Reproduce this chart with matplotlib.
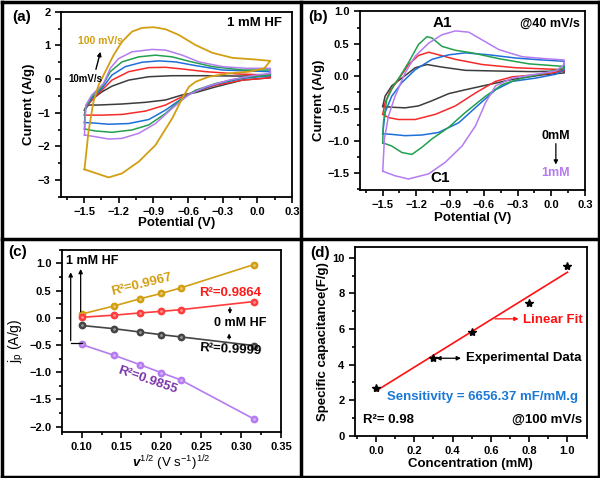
import numpy as np
import matplotlib
matplotlib.use('Agg')
import matplotlib.pyplot as plt
from matplotlib.lines import Line2D
from matplotlib.ticker import MultipleLocator

plt.rcParams['font.family'] = ['Liberation Sans', 'DejaVu Sans']
plt.rcParams['font.weight'] = 'bold'
plt.rcParams['axes.labelweight'] = 'bold'
plt.rcParams['axes.linewidth'] = 1.3
plt.rcParams['mathtext.fontset'] = 'custom'
plt.rcParams['mathtext.rm'] = 'Liberation Sans'
plt.rcParams['mathtext.it'] = 'Liberation Sans:italic'
plt.rcParams['mathtext.bf'] = 'Liberation Sans:bold'
plt.rcParams['mathtext.default'] = 'regular'

# ---------------- (a) CV at different scan rates, 1 mM HF ----------------
# anodic branch (-1.5 -> 0.1) and cathodic branch (0.1 -> -1.5), E in V, I in A/g
a_black_up_E = [-1.497, -1.477, -1.419, -1.346, -1.259, -1.114, -0.94, -0.738, -0.448, -0.158, 0.112]
a_black_up_I = [-0.92, -0.77, -0.57, -0.38, -0.21, -0.03, 0.07, 0.10, 0.10, 0.09, 0.10]
a_black_dn_E = [0.112, -0.129, -0.36, -0.535, -0.65, -0.795, -0.969, -1.172, -1.375, -1.462, -1.497]
a_black_dn_I = [0.04, -0.03, -0.23, -0.40, -0.47, -0.62, -0.69, -0.74, -0.77, -0.77, -0.92]

a_red_up_E = [-1.497, -1.49, -1.433, -1.346, -1.259, -1.114, -0.94, -0.795, -0.65, -0.448, -0.158, 0.112]
a_red_up_I = [-1.07, -0.87, -0.62, -0.33, -0.03, 0.22, 0.34, 0.35, 0.30, 0.22, 0.15, 0.12]
a_red_dn_E = [0.112, -0.129, -0.36, -0.535, -0.65, -0.795, -0.969, -1.172, -1.346, -1.497]
a_red_dn_I = [0.04, -0.03, -0.18, -0.36, -0.52, -0.77, -0.95, -1.05, -1.07, -1.07]

a_blue_up_E = [-1.497, -1.485, -1.433, -1.346, -1.259, -1.143, -0.998, -0.853, -0.709, -0.535, -0.303, 0.112]
a_blue_up_I = [-1.29, -0.82, -0.57, -0.28, 0.12, 0.37, 0.50, 0.54, 0.51, 0.40, 0.27, 0.22]
a_blue_dn_E = [0.112, -0.129, -0.36, -0.535, -0.65, -0.795, -0.94, -1.114, -1.288, -1.433, -1.497]
a_blue_dn_I = [0.10, 0.02, -0.15, -0.36, -0.57, -0.92, -1.20, -1.32, -1.34, -1.30, -1.29]

a_green_up_E = [-1.497, -1.49, -1.433, -1.346, -1.274, -1.172, -1.027, -0.882, -0.738, -0.593, -0.39, -0.129, 0.112]
a_green_up_I = [-1.48, -0.87, -0.52, -0.23, 0.22, 0.51, 0.66, 0.71, 0.66, 0.53, 0.37, 0.27, 0.27]
a_green_dn_E = [0.112, -0.129, -0.36, -0.535, -0.65, -0.795, -0.94, -1.085, -1.259, -1.404, -1.497]
a_green_dn_I = [0.12, 0.04, -0.13, -0.33, -0.57, -1.02, -1.36, -1.51, -1.58, -1.54, -1.48]

a_purple_up_E = [-1.497, -1.485, -1.433, -1.375, -1.332, -1.274, -1.201, -1.085, -0.912, -0.795, -0.65, -0.506, -0.303, -0.1, 0.112]
a_purple_up_I = [-1.66, -0.77, -0.47, -0.28, -0.13, 0.32, 0.61, 0.81, 0.88, 0.86, 0.71, 0.51, 0.37, 0.32, 0.32]
a_purple_dn_E = [0.112, -0.013, -0.245, -0.448, -0.593, -0.738, -0.882, -1.027, -1.172, -1.288, -1.404, -1.497]
a_purple_dn_I = [0.17, 0.12, -0.03, -0.23, -0.46, -0.87, -1.32, -1.61, -1.76, -1.78, -1.71, -1.66]

a_gold_up_E = [-1.497, -1.462, -1.419, -1.375, -1.317, -1.245, -1.172, -1.085, -0.998, -0.897, -0.795, -0.68, -0.535, -0.39, -0.216, -0.013, 0.112]
a_gold_up_I = [-2.68, -1.56, -0.67, -0.18, 0.22, 0.71, 1.11, 1.41, 1.52, 1.54, 1.48, 1.31, 1.01, 0.78, 0.63, 0.58, 0.54]
a_gold_dn_E = [0.112, 0.06, -0.07, -0.245, -0.42, -0.535, -0.593, -0.65, -0.738, -0.882, -1.027, -1.172, -1.288, -1.497]
a_gold_dn_I = [0.54, 0.32, 0.22, 0.17, 0.07, -0.08, -0.23, -0.57, -1.17, -1.96, -2.45, -2.80, -2.92, -2.68]

# ---------------- (b) CV at 40 mV/s, 0 -> 1 mM HF ----------------
b_black_up_E = [-1.498, -1.477, -1.418, -1.328, -1.209, -1.105, -0.971, -0.763, -0.495, -0.168, 0.115]
b_black_up_I = [-0.47, -0.31, -0.15, -0.03, 0.13, 0.18, 0.14, 0.09, 0.08, 0.07, 0.08]
b_black_dn_E = [0.115, -0.078, -0.346, -0.554, -0.763, -0.911, -1.06, -1.18, -1.299, -1.418, -1.498]
b_black_dn_I = [0.05, 0.02, -0.05, -0.13, -0.21, -0.27, -0.38, -0.46, -0.49, -0.48, -0.47]

b_red_up_E = [-1.498, -1.477, -1.432, -1.358, -1.269, -1.18, -1.09, -1.001, -0.852, -0.614, -0.316, 0.115]
b_red_up_I = [-0.59, -0.41, -0.23, -0.05, 0.18, 0.32, 0.37, 0.33, 0.26, 0.18, 0.13, 0.10]
b_red_dn_E = [0.115, -0.078, -0.346, -0.495, -0.674, -0.852, -1.03, -1.209, -1.358, -1.447, -1.498]
b_red_dn_I = [0.08, 0.03, -0.01, -0.08, -0.26, -0.46, -0.59, -0.67, -0.67, -0.64, -0.59]

b_blue_up_E = [-1.498, -1.477, -1.418, -1.328, -1.209, -1.06, -0.911, -0.763, -0.554, -0.316, -0.078, 0.115]
b_blue_up_I = [-0.89, -0.56, -0.31, -0.10, 0.10, 0.26, 0.33, 0.36, 0.33, 0.28, 0.25, 0.23]
b_blue_dn_E = [0.115, 0.041, -0.138, -0.346, -0.495, -0.644, -0.822, -1.001, -1.15, -1.299, -1.418, -1.498]
b_blue_dn_I = [0.10, 0.03, -0.03, -0.08, -0.21, -0.44, -0.72, -0.87, -0.91, -0.92, -0.90, -0.89]

b_green_up_E = [-1.498, -1.492, -1.462, -1.403, -1.343, -1.269, -1.18, -1.105, -1.06, -0.971, -0.852, -0.703, -0.465, -0.197, 0.115]
b_green_up_I = [-1.03, -0.72, -0.36, -0.15, 0.0, 0.21, 0.49, 0.61, 0.59, 0.46, 0.40, 0.36, 0.27, 0.19, 0.15]
b_green_dn_E = [0.115, -0.049, -0.257, -0.435, -0.584, -0.763, -0.911, -1.06, -1.15, -1.239, -1.328, -1.418, -1.498]
b_green_dn_I = [0.13, 0.05, -0.03, -0.13, -0.31, -0.56, -0.79, -0.97, -1.10, -1.21, -1.18, -1.08, -1.03]

b_purple_up_E = [-1.498, -1.483, -1.447, -1.388, -1.299, -1.209, -1.09, -0.971, -0.852, -0.733, -0.614, -0.465, -0.257, -0.049, 0.115]
b_purple_up_I = [-1.47, -0.97, -0.62, -0.31, 0.05, 0.31, 0.51, 0.64, 0.70, 0.68, 0.56, 0.41, 0.30, 0.27, 0.25]
b_purple_dn_E = [0.115, 0.041, -0.138, -0.346, -0.495, -0.584, -0.674, -0.793, -0.941, -1.09, -1.269, -1.388, -1.498]
b_purple_dn_I = [0.18, 0.08, 0.03, -0.03, -0.15, -0.41, -0.77, -1.08, -1.33, -1.51, -1.59, -1.54, -1.47]

# ---------------- (c) peak current vs sqrt(scan rate) ----------------
c_x = [0.100, 0.141, 0.173, 0.200, 0.224, 0.316]
c_gold = [0.07, 0.22, 0.35, 0.45, 0.55, 0.98]
c_red = [0.01, 0.05, 0.09, 0.12, 0.15, 0.30]
c_black = [-0.14, -0.20, -0.26, -0.31, -0.35, -0.51]
c_purple = [-0.49, -0.69, -0.86, -1.01, -1.14, -1.86]

# ---------------- (d) capacitance vs concentration ----------------
d_conc = [0.0, 0.3, 0.5, 0.8, 1.0]
d_cap = [2.7, 4.4, 5.85, 7.45, 9.55]

C_BLACK = '#3c3c3c'
C_RED = '#f52a2a'
C_BLUE = '#1e6fd9'
C_GREEN = '#22a04e'
C_PURPLE = '#b47cf0'
C_GOLD = '#d29e12'

fig = plt.figure(figsize=(6, 4.78), dpi=100)

def style(ax):
    ax.tick_params(which='both', direction='out', labelsize=8, width=1.2)
    ax.tick_params(which='major', length=4)
    ax.tick_params(which='minor', length=2.5)
    for lab in ax.get_xticklabels() + ax.get_yticklabels():
        lab.set_fontweight('bold')

def loop(ax, upE, upI, dnE, dnI, c, lw=1.1):
    ax.plot(upE + dnE, upI + dnI, color=c, lw=lw)

# (a)
ax1 = fig.add_axes([0.1017, 0.5879, 0.385, 0.3876])
loop(ax1, a_black_up_E, a_black_up_I, a_black_dn_E, a_black_dn_I, C_BLACK)
loop(ax1, a_red_up_E, a_red_up_I, a_red_dn_E, a_red_dn_I, C_RED)
loop(ax1, a_blue_up_E, a_blue_up_I, a_blue_dn_E, a_blue_dn_I, C_BLUE)
loop(ax1, a_green_up_E, a_green_up_I, a_green_dn_E, a_green_dn_I, C_GREEN)
loop(ax1, a_purple_up_E, a_purple_up_I, a_purple_dn_E, a_purple_dn_I, C_PURPLE)
loop(ax1, a_gold_up_E, a_gold_up_I, a_gold_dn_E, a_gold_dn_I, C_GOLD, lw=1.3)
ax1.set_xlim(-1.7, 0.3)
ax1.set_ylim(-3.5, 2.0)
ax1.set_xticks([-1.5, -1.2, -0.9, -0.6, -0.3, 0.0, 0.3])
ax1.xaxis.set_minor_locator(MultipleLocator(0.15))
ax1.set_yticks([-3, -2, -1, 0, 1, 2])
ax1.yaxis.set_minor_locator(MultipleLocator(0.5))
ax1.set_xlabel('Potential (V)', fontsize=9.5, labelpad=0)
ax1.set_ylabel('Current (A/g)', fontsize=9.5, labelpad=2)
style(ax1)
ax1.text(0.955, 0.94, '1 mM HF', transform=ax1.transAxes, ha='right', va='center', fontsize=9.5)
ax1.text(-1.36, 1.13, '100 mV/s', color=C_GOLD, ha='center', va='center', fontsize=7.5)
ax1.text(-1.49, 0.0, '10mV/s', color='black', ha='center', va='center', fontsize=7)
ax1.annotate('', xy=(-1.352, 0.89), xytext=(-1.404, 0.21),
             arrowprops=dict(arrowstyle='-|>', color='black', lw=1, mutation_scale=6))

# (b)
ax2 = fig.add_axes([0.6, 0.6025, 0.375, 0.3735])
loop(ax2, b_black_up_E, b_black_up_I, b_black_dn_E, b_black_dn_I, C_BLACK)
loop(ax2, b_red_up_E, b_red_up_I, b_red_dn_E, b_red_dn_I, C_RED)
loop(ax2, b_blue_up_E, b_blue_up_I, b_blue_dn_E, b_blue_dn_I, C_BLUE)
loop(ax2, b_green_up_E, b_green_up_I, b_green_dn_E, b_green_dn_I, C_GREEN)
loop(ax2, b_purple_up_E, b_purple_up_I, b_purple_dn_E, b_purple_dn_I, C_PURPLE)
ax2.set_xlim(-1.7, 0.3)
ax2.set_ylim(-1.76, 1.0)
ax2.set_xticks([-1.5, -1.2, -0.9, -0.6, -0.3, 0.0, 0.3])
ax2.xaxis.set_minor_locator(MultipleLocator(0.15))
ax2.set_yticks([-1.5, -1.0, -0.5, 0.0, 0.5, 1.0])
ax2.yaxis.set_minor_locator(MultipleLocator(0.25))
ax2.set_xlabel('Potential (V)', fontsize=9.5, labelpad=1)
ax2.set_ylabel('Current (A/g)', fontsize=9.5, labelpad=2)
style(ax2)
ax2.text(0.978, 0.93, '@40 mV/s', transform=ax2.transAxes, ha='right', va='center', fontsize=9)
ax2.text(-0.97, 0.82, 'A1', ha='center', va='center', fontsize=11)
ax2.text(-0.986, -1.58, 'C1', ha='center', va='center', fontsize=11)
ax2.text(0.04, -0.92, '0mM', ha='center', va='center', fontsize=9)
ax2.text(0.04, -1.50, '1mM', color=C_PURPLE, ha='center', va='center', fontsize=9)
ax2.annotate('', xy=(0.041, -1.41), xytext=(0.041, -1.0),
             arrowprops=dict(arrowstyle='-|>', color='black', lw=0.9, mutation_scale=6))

# (c)
ax3 = fig.add_axes([0.1028, 0.0962, 0.3655, 0.381])
for ys, c in [(c_gold, C_GOLD), (c_red, '#ff3b3b'), (c_black, '#444444'), (c_purple, C_PURPLE)]:
    ax3.plot(c_x, ys, color=c, lw=1.2, marker='o', ms=4.6, mfc=c, mec=c)
    ax3.plot(c_x, ys, ls='none', marker='o', ms=2.0, mfc='white', mec='none', alpha=0.45)
ax3.set_xlim(0.075, 0.35)
ax3.set_ylim(-2.1, 1.25)
ax3.set_xticks([0.10, 0.15, 0.20, 0.25, 0.30, 0.35])
ax3.xaxis.set_minor_locator(MultipleLocator(0.025))
ax3.set_yticks([-2.0, -1.5, -1.0, -0.5, 0.0, 0.5, 1.0])
ax3.yaxis.set_minor_locator(MultipleLocator(0.25))
ax3.set_xlabel(r'$\mathit{v}^{1/2}$ (V s$^{-1}$)$^{1/2}$', fontsize=9.5, fontweight='normal', labelpad=1)
ax3.set_ylabel(r'j$_{p}$ (A/g)', fontsize=10, fontweight='normal', labelpad=2)
style(ax3)
ax3.text(0.081, 1.04, '1 mM HF', ha='left', va='center', fontsize=9)
ax3.plot([0.1, 0.0863], [-0.47, -0.47], color='black', lw=0.9)
ax3.annotate('', xy=(0.0863, 0.89), xytext=(0.0863, -0.47),
             arrowprops=dict(arrowstyle='-|>', color='black', lw=0.9, mutation_scale=6))
ax3.annotate('', xy=(0.0988, 0.95), xytext=(0.0988, 0.06),
             arrowprops=dict(arrowstyle='-|>', color='black', lw=0.9, mutation_scale=6))
ax3.text(0.299, -0.09, '0 mM HF', ha='center', va='center', fontsize=9)
ax3.annotate('', xy=(0.286, 0.02), xytext=(0.286, 0.24),
             arrowprops=dict(arrowstyle='-|>', color='black', lw=0.9, mutation_scale=5))
ax3.annotate('', xy=(0.285, -0.235), xytext=(0.285, -0.44),
             arrowprops=dict(arrowstyle='-|>', color='black', lw=0.9, mutation_scale=5))
ax3.text(0.175, 0.61, 'R\u00b2=0.9967', color=C_GOLD, ha='center', va='center', fontsize=9.5, rotation=14)
ax3.text(0.286, 0.46, 'R\u00b2=0.9864', color='#ff1a1a', ha='center', va='center', fontsize=9.5)
ax3.text(0.286, -0.59, 'R\u00b2=0.9999', color='black', ha='center', va='center', fontsize=9.5, rotation=-3)
ax3.text(0.182, -1.15, 'R\u00b2=0.9855', color='#7a35a8', ha='center', va='center', fontsize=9.5, rotation=-19)

# (d)
ax4 = fig.add_axes([0.5917, 0.0879, 0.386, 0.3954])
slope, icpt = np.polyfit(d_conc, d_cap, 1)
ax4.plot([0.0, 1.0], [icpt, slope + icpt], color='#ff1010', lw=1.2)
ax4.plot(d_conc, d_cap, ls='none', marker='*', ms=6, color='black')
ax4.set_xlim(-0.11, 1.1)
ax4.set_ylim(0, 10.6)
ax4.set_xticks([0.0, 0.2, 0.4, 0.6, 0.8, 1.0])
ax4.xaxis.set_minor_locator(MultipleLocator(0.1))
ax4.set_yticks([0, 2, 4, 6, 8, 10])
ax4.yaxis.set_minor_locator(MultipleLocator(1))
ax4.set_xlabel('Concentration (mM)', fontsize=9.5, labelpad=1)
ax4.set_ylabel('Specific capacitance(F/g)', fontsize=9.5, labelpad=2)
style(ax4)
ax4.text(0.77, 6.48, 'Linear Fit', color='#ff1010', ha='left', va='center', fontsize=9.5)
ax4.annotate('', xy=(0.759, 6.57), xytext=(0.607, 6.57),
             arrowprops=dict(arrowstyle='-|>', color='#ff1010', lw=0.9, mutation_scale=6))
ax4.text(0.47, 4.36, 'Experimental Data', color='black', ha='left', va='center', fontsize=9.5)
ax4.annotate('', xy=(0.458, 4.36), xytext=(0.30, 4.36),
             arrowprops=dict(arrowstyle='<|-|>', color='black', lw=0.9, mutation_scale=6))
ax4.text(0.554, 2.21, 'Sensitivity = 6656.37 mF/mM.g', color='#1a78d6', ha='center', va='center', fontsize=9.5)
ax4.text(-0.066, 0.9, 'R\u00b2= 0.98', ha='left', va='center', fontsize=9.5)
ax4.text(1.079, 0.9, '@100 mV/s', ha='right', va='center', fontsize=9.5)

# panel letters
fig.text(12 / 600, 1 - 17 / 478, '(a)', fontsize=11, va='center', ha='left')
fig.text(308 / 600, 1 - 17 / 478, '(b)', fontsize=11, va='center', ha='left')
fig.text(8 / 600, 1 - 252 / 478, '(c)', fontsize=11, va='center', ha='left')
fig.text(310 / 600, 1 - 253 / 478, '(d)', fontsize=11, va='center', ha='left')

# panel frames
W, H = 600.0, 478.0
frame = [([1.5, 598.5], [1.5, 1.5]), ([1.5, 598.5], [476.5, 476.5]),
         ([1.5, 1.5], [1.5, 476.5]), ([598.5, 598.5], [1.5, 476.5]),
         ([300.5, 300.5], [1.5, 476.5]), ([1.5, 598.5], [239.0, 239.0])]
for xs, ys in frame:
    fig.add_artist(Line2D([x / W for x in xs], [1 - y / H for y in ys],
                          transform=fig.transFigure, color='black', lw=2.5))

fig.savefig('out.png', dpi=100)
